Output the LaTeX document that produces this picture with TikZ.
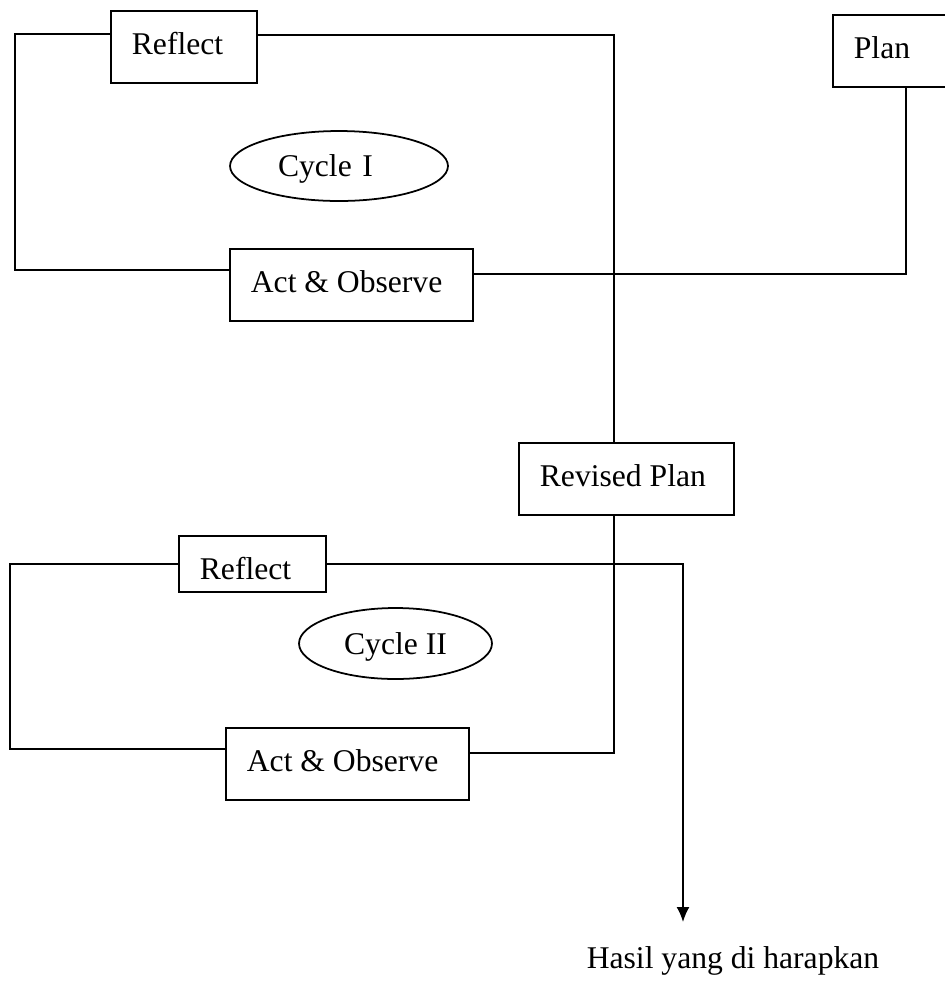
\documentclass[tikz,border=0pt]{standalone}
\usepackage{fontspec}
\setmainfont{Liberation Serif}
\usepackage{tikz}
\usetikzlibrary{shapes,arrows.meta}
\tikzstyle{stage} = [rectangle, draw, line width=1pt, anchor=north west, inner sep=0pt, inner xsep=0.42cm, text height=0.81cm, text depth=0.63cm]
\tikzstyle{phase} = [ellipse, draw, line width=1pt, inner sep=0pt, text depth=0pt]
\tikzstyle{line} = [draw, line width=1pt]
\tikzstyle{result} = [draw, line width=1pt, -{Latex[length=0.3cm,width=0.26cm]}]
\newcommand{\nodebox}[2]{\parbox[c]{#1}{\raggedright #2}}

\begin{document}
\begin{tikzpicture}[x=0.02cm, y=-0.02cm, font=\fontsize{18pt}{22pt}\selectfont]
\useasboundingbox (0,0) rectangle (945,985);
% Cycle I
	%	Cycle I Stages
    \node [stage] (reflA) at (110,10) {\nodebox{2.08cm}{Reflect}};
    \node [stage] (plan) at (832,14) {\nodebox{2.08cm}{Plan}};
    \node [stage] (actA) at (229,248) {\nodebox{4.02cm}{Act \& Observe}};
    \node [phase, minimum width=4.36cm, minimum height=1.4cm, text width=2.44cm, align=left] (cycA) at (339,166) {Cycle I};
    %	Cycle I Turns
    \coordinate (lA) at (15,0);
    \coordinate (vA) at (614,0);
    \node [stage] (revP) at (518,442) {\nodebox{3.46cm}{Revised Plan}};

    \path [line] (reflA.170) -- (reflA.170 -| lA) |- (actA.173);
    \path [line] (reflA.9) -| (vA |- revP.north);
    \path [line] (plan.south) |- (actA.5);

% Cycle II
	%	Cycle II Stages
    \node [stage, text depth=0.31cm] (reflB) at (178,535) {\nodebox{2.1cm}{Reflect}};
    \node [stage] (actB) at (225,727) {\nodebox{4.02cm}{Act \& Observe}};
    \node [phase, minimum width=3.86cm, minimum height=1.42cm] (cycB) at (395.5,643.5) {Cycle II};
    %	Cycle II Turns
    \coordinate (lB) at (10,0);
    \coordinate (tip) at (683,922);
    \node [anchor=base] (goal) at (733,968) {Hasil yang di harapkan};

    \path [line] (reflB.west) -- (reflB.west -| lB) |- (actB.173);
    \path [line] (revP.south -| vA) |- (actB.5);
    \path [result] (reflB.east) -| (tip);
\end{tikzpicture}
\end{document}
